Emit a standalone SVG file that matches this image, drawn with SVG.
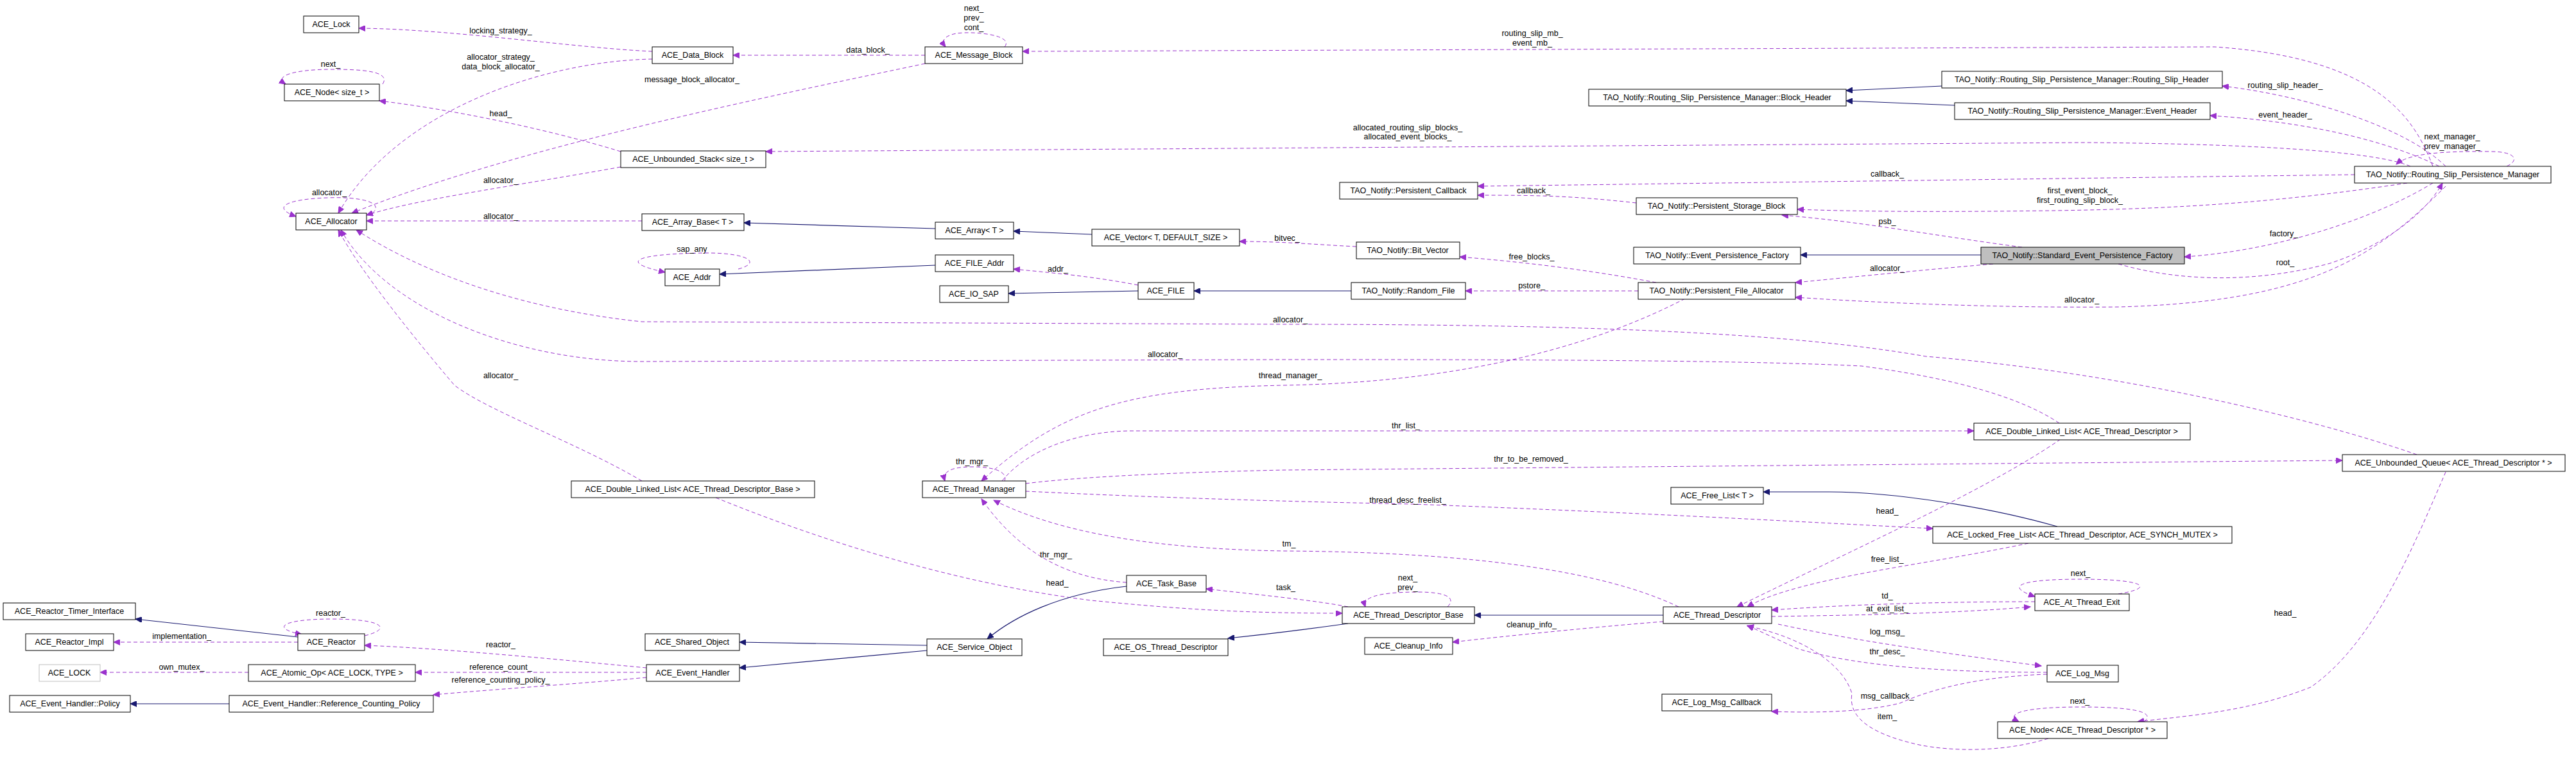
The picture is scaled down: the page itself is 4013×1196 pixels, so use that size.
<svg xmlns="http://www.w3.org/2000/svg" width="4013" height="1196" viewBox="0 0 4013 1196">
<style>
text{font-family:"Liberation Sans",Arial,sans-serif;font-size:12.5px;fill:#000;text-anchor:middle}
.n rect{fill:#fff;stroke:#000;stroke-width:1}
.u{fill:none;stroke:#9a32cd;stroke-width:1;stroke-dasharray:6,4;marker-end:url(#pa)}
.i{fill:none;stroke:#191970;stroke-width:1.2;marker-end:url(#na)}
</style>
<defs>
<marker id="pa" markerWidth="11" markerHeight="9" refX="10" refY="4.5" orient="auto" markerUnits="userSpaceOnUse"><path d="M0,0 L10,4.5 L0,9 z" fill="#9a32cd" stroke="#9a32cd"/></marker>
<marker id="na" markerWidth="11" markerHeight="9" refX="10" refY="4.5" orient="auto" markerUnits="userSpaceOnUse"><path d="M0,0 L10,4.5 L0,9 z" fill="#191970" stroke="#191970"/></marker>
</defs>
<rect width="4013" height="1196" fill="#fff"/>
<g id="connectors">
<path class="u" d="M1016,80 C900,75 700,45 559,44"/><text x="780" y="52">locking_strategy_</text>
<path class="u" d="M1016,92 C850,95 620,170 527,332"/><text x="780" y="93">allocator_strategy_</text><text x="780" y="108">data_block_allocator_</text>
<path class="u" d="M1441,86 L1142,86"/><text x="1352" y="82">data_block_</text>
<path class="u" d="M1565,73 C1580,55 1520,48 1490,52 C1470,56 1466,64 1473,73"/><text x="1517" y="17">next_</text><text x="1517" y="32">prev_</text><text x="1517" y="47">cont_</text>
<path class="u" d="M1441,99 C1200,150 800,230 548,332"/><text x="1078" y="128">message_block_allocator_</text>
<path class="u" d="M967,236 C850,200 700,170 591,157"/><text x="780" y="181">head_</text>
<path class="u" d="M967,260 C800,290 650,310 571,335"/><text x="780" y="285">allocator_</text>
<path class="u" d="M1000,344 L571,344"/><text x="780" y="341">allocator_</text>
<path class="u" d="M580,332 C600,315 560,306 510,308 C450,310 420,322 461,337"/><text x="513" y="304">allocator_</text>
<path class="u" d="M596,131 C610,110 560,108 517,108 C460,108 425,118 445,131"/><text x="515" y="104">next_</text>
<path class="u" d="M1150,419 C1190,408 1160,393 1096,394 C1010,395 950,405 1036,424"/><text x="1078" y="392">sap_any</text>
<path class="i" d="M1457,413 L1121,427"/>
<path class="i" d="M1457,356 L1159,347"/>
<path class="i" d="M1701,365 L1579,360"/>
<path class="u" d="M1773,444 C1700,430 1640,425 1579,419"/><text x="1648" y="423">addr_</text>
<path class="i" d="M1773,453 L1571,457"/>
<path class="i" d="M2105,453 L1860,453"/>
<path class="u" d="M2113,384 C2050,381 2000,376 1931,376"/><text x="2005" y="375">bitvec_</text>
<path class="u" d="M2580,440 C2500,425 2400,410 2274,400"/><text x="2386" y="404">free_blocks_</text>
<path class="u" d="M2552,453 L2283,453"/><text x="2386" y="449">pstore_</text>
<path class="u" d="M2549,316 C2450,305 2400,304 2302,304"/><text x="2389" y="301">callback_</text>
<path class="u" d="M3668,272 L2302,290"/><text x="2940" y="275">callback_</text>
<path class="i" d="M3025,134 L2876,141"/>
<path class="i" d="M3045,164 L2876,157"/>
<path class="u" d="M3750,285 C3550,315 3400,325 3200,328 C3050,330 2900,330 2800,326"/><text x="3240" y="301">first_event_block_</text><text x="3240" y="316">first_routing_slip_block_</text>
<path class="u" d="M3150,385 C3000,365 2900,345 2776,335"/><text x="2940" y="349">psb_</text>
<path class="i" d="M3086,397 L2805,397"/>
<path class="u" d="M3105,411 C3000,420 2900,430 2797,440"/><text x="2940" y="422">allocator_</text>
<path class="u" d="M3810,290 C3700,400 3600,470 3300,478 C3100,480 2900,470 2797,463"/><text x="3243" y="471">allocator_</text>
<path class="u" d="M3790,285 C3700,340 3550,390 3403,400"/><text x="3558" y="368">factory_</text>
<path class="u" d="M3300,411 C3400,440 3520,440 3630,410 C3720,380 3780,330 3805,285"/><text x="3560" y="413">root_</text>
<path class="u" d="M3810,259 C3750,200 3600,150 3462,134"/><text x="3560" y="137">routing_slip_header_</text>
<path class="u" d="M3800,259 C3720,220 3600,190 3443,180"/><text x="3560" y="183">event_header_</text>
<path class="u" d="M3905,259 C3925,250 3920,236 3880,236 C3800,235 3750,240 3733,256"/><text x="3820" y="217">next_manager_</text><text x="3820" y="232">prev_manager_</text>
<path class="u" d="M3790,259 C3760,180 3700,90 3450,73 L1593,80"/><text x="2387" y="56">routing_slip_mb_</text><text x="2387" y="71">event_mb_</text>
<path class="u" d="M3755,259 C3700,235 3500,224 3250,222 L1193,236"/><text x="2193" y="203">allocated_routing_slip_blocks_</text><text x="2193" y="217">allocated_event_blocks_</text>
<path class="u" d="M2625,465 C2500,530 2300,595 2000,600 C1750,605 1650,640 1529,749"/><text x="2010" y="589">thread_manager_</text>
<path class="u" d="M1561,749 C1600,700 1680,672 1760,671 L3075,671"/><text x="2190" y="667">thr_list_</text>
<path class="u" d="M1598,753 C1700,740 1900,734 2000,732 L3649,717"/><text x="2385" y="719">thr_to_be_removed_</text>
<path class="u" d="M1598,765 C1700,770 1900,779 2200,785 C2600,800 2900,818 3011,823"/><text x="2193" y="783">thread_desc_freelist_</text>
<path class="u" d="M2615,945 C2500,890 2300,860 2000,858 C1800,855 1650,830 1548,779"/><text x="2008" y="851">tm_</text>
<path class="u" d="M1755,907 C1650,900 1580,850 1529,777"/><text x="1645" y="868">thr_mgr_</text>
<path class="u" d="M1565,749 C1570,735 1550,727 1515,727 C1480,727 1468,735 1472,749"/><text x="1514" y="723">thr_mgr_</text>
<path class="u" d="M1115,775 C1300,850 1500,910 1700,935 C1850,950 1950,955 2091,955"/><text x="1647" y="912">head_</text>
<path class="u" d="M2100,945 C2050,935 1950,925 1879,917"/><text x="2003" y="919">task_</text>
<path class="u" d="M2255,945 C2270,930 2250,922 2210,922 C2170,922 2120,925 2127,945"/><text x="2193" y="904">next_</text><text x="2193" y="919">prev_</text>
<path class="i" d="M2591,958 L2297,958"/>
<path class="u" d="M2591,968 C2500,975 2350,990 2263,1000"/><text x="2386" y="977">cleanup_info_</text>
<path class="i" d="M2100,971 C2050,978 2000,985 1913,994"/>
<path class="i" d="M1755,913 C1650,925 1580,960 1538,995"/>
<path class="i" d="M1444,1005 L1152,1000"/>
<path class="i" d="M1444,1013 L1152,1040"/>
<path class="u" d="M1007,1040 C900,1030 700,1010 568,1005"/><text x="780" y="1008">reactor_</text>
<path class="u" d="M1007,1047 L647,1047"/><text x="780" y="1043">reference_count_</text>
<path class="u" d="M1007,1055 C900,1065 750,1075 675,1082"/><text x="780" y="1063">reference_counting_policy_</text>
<path class="i" d="M464,992 L211,964"/>
<path class="u" d="M464,1000 L177,1000"/><text x="283" y="995">implementation_</text>
<path class="u" d="M568,990 C610,980 600,964 517,964 C440,964 420,978 470,988"/><text x="515" y="959">reactor_</text>
<path class="u" d="M387,1047 L156,1047"/><text x="283" y="1043">own_mutex_</text>
<path class="i" d="M357,1096 L203,1096"/>
<path class="i" d="M3205,820 C3100,790 2950,766 2850,766 L2747,766"/>
<path class="u" d="M3160,846 C3000,880 2800,900 2722,945"/><text x="2940" y="875">free_list_</text>
<path class="u" d="M3210,684 C3100,760 2900,850 2706,945"/><text x="2940" y="800">head_</text>
<path class="u" d="M2760,960 C2900,958 3050,955 3163,945"/><text x="2940" y="952">at_exit_list_</text>
<path class="u" d="M3170,937 C3050,937 2900,940 2760,950"/><text x="2940" y="932">td_</text>
<path class="u" d="M3300,925 C3360,915 3340,902 3242,902 C3150,902 3120,912 3170,929"/><text x="3241" y="897">next_</text>
<path class="u" d="M2770,972 C2900,1000 3050,1020 3180,1037"/><text x="2940" y="988">log_msg_</text>
<path class="u" d="M3189,1047 C3050,1047 2900,1040 2800,1010 L2722,974"/><text x="2940" y="1019">thr_desc_</text>
<path class="u" d="M3189,1050 C3100,1053 3020,1068 2960,1095 C2900,1110 2820,1110 2760,1108"/><text x="2940" y="1088">msg_callback_</text>
<path class="u" d="M3191,1150 C3120,1172 3040,1170 2990,1160 C2900,1140 2880,1110 2885,1080 C2870,1030 2800,990 2722,975"/><text x="2940" y="1120">item_</text>
<path class="u" d="M3340,1124 C3360,1108 3320,1101 3242,1101 C3160,1101 3120,1110 3145,1124"/><text x="3240" y="1096">next_</text>
<path class="u" d="M3810,735 C3760,850 3700,1000 3600,1070 C3500,1110 3400,1115 3330,1124"/><text x="3560" y="959">head_</text>
<path class="u" d="M3208,659 C3150,620 3050,590 2900,570 C2700,560 2300,560 2000,560 L1000,563 C800,563 600,480 531,358"/><text x="1815" y="556">allocator_</text>
<path class="u" d="M3765,708 C3600,650 3300,580 3000,555 C2800,520 2500,505 2000,505 L1000,501 C800,480 650,420 555,358"/><text x="2010" y="502">allocator_</text>
<path class="u" d="M1000,749 C900,690 760,640 708,600 C640,520 560,420 527,358"/><text x="780" y="589">allocator_</text>
</g>
<g id="n_lock" class="n"><rect x="473" y="25" width="86" height="26"/><text x="516" y="42">ACE_Lock</text></g>
<g id="n_node_size" class="n"><rect x="443" y="131" width="148" height="26"/><text x="517" y="148">ACE_Node&lt; size_t &gt;</text></g>
<g id="n_alloc" class="n"><rect x="461" y="332" width="110" height="26"/><text x="516" y="349">ACE_Allocator</text></g>
<g id="n_datablock" class="n"><rect x="1016" y="73" width="126" height="26"/><text x="1079" y="90">ACE_Data_Block</text></g>
<g id="n_msgblock" class="n"><rect x="1441" y="73" width="152" height="26"/><text x="1517" y="90">ACE_Message_Block</text></g>
<g id="n_ustack" class="n"><rect x="967" y="235" width="226" height="26"/><text x="1080" y="252">ACE_Unbounded_Stack&lt; size_t &gt;</text></g>
<g id="n_arraybase" class="n"><rect x="1000" y="333" width="159" height="26"/><text x="1079" y="350">ACE_Array_Base&lt; T &gt;</text></g>
<g id="n_array" class="n"><rect x="1457" y="346" width="122" height="26"/><text x="1518" y="363">ACE_Array&lt; T &gt;</text></g>
<g id="n_vector" class="n"><rect x="1701" y="357" width="230" height="26"/><text x="1816" y="374">ACE_Vector&lt; T, DEFAULT_SIZE &gt;</text></g>
<g id="n_addr" class="n"><rect x="1036" y="419" width="85" height="26"/><text x="1078" y="436">ACE_Addr</text></g>
<g id="n_fileaddr" class="n"><rect x="1457" y="397" width="122" height="26"/><text x="1518" y="414">ACE_FILE_Addr</text></g>
<g id="n_iosap" class="n"><rect x="1464" y="445" width="107" height="26"/><text x="1517" y="462">ACE_IO_SAP</text></g>
<g id="n_file" class="n"><rect x="1773" y="440" width="87" height="26"/><text x="1816" y="457">ACE_FILE</text></g>
<g id="n_blockheader" class="n"><rect x="2475" y="139" width="401" height="26"/><text x="2675" y="156">TAO_Notify::Routing_Slip_Persistence_Manager::Block_Header</text></g>
<g id="n_pcallback" class="n"><rect x="2087" y="284" width="215" height="26"/><text x="2194" y="301">TAO_Notify::Persistent_Callback</text></g>
<g id="n_psb" class="n"><rect x="2549" y="308" width="251" height="26"/><text x="2674" y="325">TAO_Notify::Persistent_Storage_Block</text></g>
<g id="n_bitvec" class="n"><rect x="2113" y="377" width="161" height="26"/><text x="2193" y="394">TAO_Notify::Bit_Vector</text></g>
<g id="n_epf" class="n"><rect x="2545" y="385" width="260" height="26"/><text x="2675" y="402">TAO_Notify::Event_Persistence_Factory</text></g>
<g id="n_randfile" class="n"><rect x="2105" y="440" width="178" height="26"/><text x="2194" y="457">TAO_Notify::Random_File</text></g>
<g id="n_pfa" class="n"><rect x="2552" y="440" width="245" height="26"/><text x="2674" y="457">TAO_Notify::Persistent_File_Allocator</text></g>
<g id="n_rsh" class="n"><rect x="3025" y="111" width="437" height="26"/><text x="3243" y="128">TAO_Notify::Routing_Slip_Persistence_Manager::Routing_Slip_Header</text></g>
<g id="n_eh" class="n"><rect x="3045" y="160" width="398" height="26"/><text x="3244" y="177">TAO_Notify::Routing_Slip_Persistence_Manager::Event_Header</text></g>
<g id="n_rspm" class="n"><rect x="3668" y="259" width="306" height="26"/><text x="3821" y="276">TAO_Notify::Routing_Slip_Persistence_Manager</text></g>
<g id="n_sepf" class="n"><rect x="3086" y="385" width="317" height="26" style="fill:#bfbfbf"/><text x="3244" y="402">TAO_Notify::Standard_Event_Persistence_Factory</text></g>
<g id="n_dlltdb" class="n"><rect x="890" y="749" width="379" height="26"/><text x="1079" y="766">ACE_Double_Linked_List&lt; ACE_Thread_Descriptor_Base &gt;</text></g>
<g id="n_rti" class="n"><rect x="5" y="939" width="206" height="26"/><text x="108" y="956">ACE_Reactor_Timer_Interface</text></g>
<g id="n_rimpl" class="n"><rect x="40" y="987" width="137" height="26"/><text x="108" y="1004">ACE_Reactor_Impl</text></g>
<g id="n_lock2" class="n"><rect x="61" y="1035" width="95" height="26" style="stroke:#bfbfbf"/><text x="108" y="1052">ACE_LOCK</text></g>
<g id="n_policy" class="n"><rect x="15" y="1083" width="188" height="26"/><text x="109" y="1100">ACE_Event_Handler::Policy</text></g>
<g id="n_reactor" class="n"><rect x="464" y="987" width="104" height="26"/><text x="516" y="1004">ACE_Reactor</text></g>
<g id="n_atomic" class="n"><rect x="387" y="1035" width="260" height="26"/><text x="517" y="1052">ACE_Atomic_Op&lt; ACE_LOCK, TYPE &gt;</text></g>
<g id="n_rcp" class="n"><rect x="357" y="1083" width="318" height="26"/><text x="516" y="1100">ACE_Event_Handler::Reference_Counting_Policy</text></g>
<g id="n_tm" class="n"><rect x="1437" y="749" width="161" height="26"/><text x="1517" y="766">ACE_Thread_Manager</text></g>
<g id="n_taskbase" class="n"><rect x="1755" y="896" width="124" height="26"/><text x="1817" y="913">ACE_Task_Base</text></g>
<g id="n_shared" class="n"><rect x="1005" y="987" width="147" height="26"/><text x="1078" y="1004">ACE_Shared_Object</text></g>
<g id="n_evh" class="n"><rect x="1007" y="1035" width="145" height="26"/><text x="1079" y="1052">ACE_Event_Handler</text></g>
<g id="n_svc" class="n"><rect x="1444" y="995" width="148" height="26"/><text x="1518" y="1012">ACE_Service_Object</text></g>
<g id="n_ostd" class="n"><rect x="1719" y="995" width="194" height="26"/><text x="1816" y="1012">ACE_OS_Thread_Descriptor</text></g>
<g id="n_freelist" class="n"><rect x="2603" y="759" width="144" height="26"/><text x="2675" y="776">ACE_Free_List&lt; T &gt;</text></g>
<g id="n_tdb" class="n"><rect x="2091" y="945" width="206" height="26"/><text x="2194" y="962">ACE_Thread_Descriptor_Base</text></g>
<g id="n_td" class="n"><rect x="2591" y="945" width="169" height="26"/><text x="2675" y="962">ACE_Thread_Descriptor</text></g>
<g id="n_cleanup" class="n"><rect x="2126" y="993" width="137" height="26"/><text x="2194" y="1010">ACE_Cleanup_Info</text></g>
<g id="n_lmc" class="n"><rect x="2589" y="1081" width="171" height="26"/><text x="2674" y="1098">ACE_Log_Msg_Callback</text></g>
<g id="n_dlltd" class="n"><rect x="3075" y="659" width="337" height="26"/><text x="3243" y="676">ACE_Double_Linked_List&lt; ACE_Thread_Descriptor &gt;</text></g>
<g id="n_uq" class="n"><rect x="3649" y="708" width="347" height="26"/><text x="3822" y="725">ACE_Unbounded_Queue&lt; ACE_Thread_Descriptor * &gt;</text></g>
<g id="n_lfl" class="n"><rect x="3011" y="820" width="466" height="26"/><text x="3244" y="837">ACE_Locked_Free_List&lt; ACE_Thread_Descriptor, ACE_SYNCH_MUTEX &gt;</text></g>
<g id="n_ate" class="n"><rect x="3170" y="925" width="147" height="26"/><text x="3243" y="942">ACE_At_Thread_Exit</text></g>
<g id="n_logmsg" class="n"><rect x="3189" y="1036" width="111" height="26"/><text x="3244" y="1053">ACE_Log_Msg</text></g>
<g id="n_nodetd" class="n"><rect x="3112" y="1124" width="264" height="26"/><text x="3244" y="1141">ACE_Node&lt; ACE_Thread_Descriptor * &gt;</text></g>
</svg>
